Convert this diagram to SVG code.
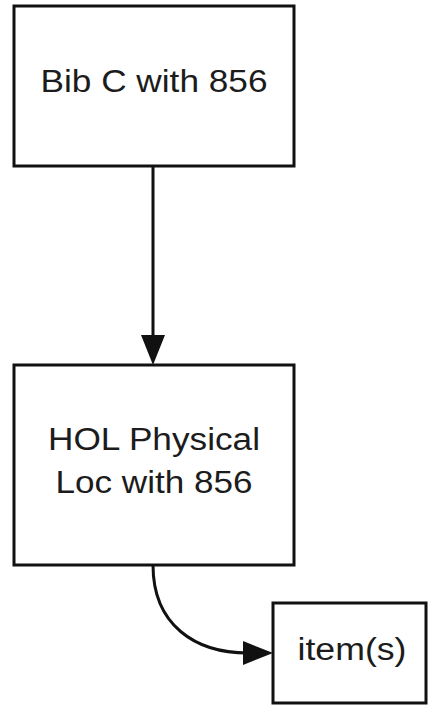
<svg xmlns="http://www.w3.org/2000/svg" width="429" height="705" viewBox="0 0 429 705">
<style>
.box{fill:#ffffff;stroke:#111;stroke-width:3}
.lbl{font-family:"Liberation Sans",Arial,sans-serif;font-size:31px;fill:#1c1c1c;text-anchor:middle}
.edge{fill:none;stroke:#111;stroke-width:3}
.head{fill:#111}
</style>
<rect width="429" height="705" fill="#ffffff"/>
<g id="connectors">
<line class="edge" x1="153" y1="166" x2="153" y2="338"/>
<polygon class="head" points="141,335 165,335 153,365"/>
<path class="edge" d="M153,565 C153,625 195,653 248,653"/>
<polygon class="head" points="243,641 243,665 273,653"/>
</g>
<g id="node-bib">
<rect class="box" x="14" y="6" width="280" height="160"/>
<text class="lbl" x="154" y="92" textLength="227" lengthAdjust="spacingAndGlyphs">Bib C with 856</text>
</g>
<g id="node-hol">
<rect class="box" x="14" y="365" width="280" height="200"/>
<text class="lbl" x="154" y="450" textLength="212" lengthAdjust="spacingAndGlyphs">HOL Physical</text>
<text class="lbl" x="154" y="493" textLength="197" lengthAdjust="spacingAndGlyphs">Loc with 856</text>
</g>
<g id="node-item">
<rect class="box" x="273" y="603" width="153" height="100"/>
<text class="lbl" x="352" y="660" textLength="109" lengthAdjust="spacingAndGlyphs">item(s)</text>
</g>
</svg>
